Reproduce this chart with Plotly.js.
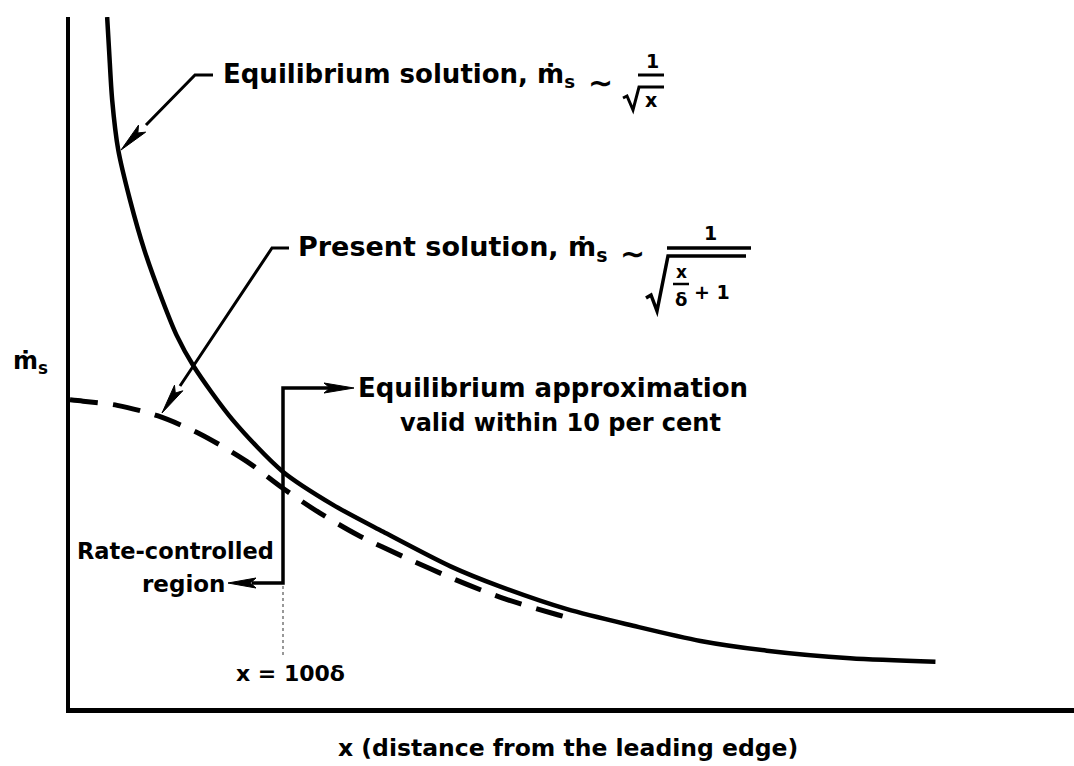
<!DOCTYPE html>
<html><head><meta charset="utf-8">
<script src="https://cdn.plot.ly/plotly-3.0.1.min.js"></script>
<style>html,body{margin:0;padding:0;background:#fff}</style>
</head><body><div id="chart" style="width:1074px;height:766px"></div>
<script>
// Equilibrium solution (solid) (schematic units 0-100)
const equilibriumX = [3.7, 3.9, 4.2, 4.8, 5.98, 7.4, 9.2, 10.6, 12.3, 16.2, 21.2, 26.2, 31.2, 37.9, 42.8, 49.5, 56.1, 62.8, 69.4, 77.7, 86.2];
const equilibriumY = [100, 95.0, 88.0, 80.8, 73.5, 66.3, 59.0, 54.0, 49.5, 41.7, 34.2, 29.4, 25.5, 20.5, 17.6, 14.3, 11.9, 9.7, 8.3, 7.2, 6.7];
// Present solution (dashed)
const presentX = [0, 1.3, 4.7, 8.7, 12.9, 17.6, 21.2, 24.9, 28.7, 33.2, 38.5, 43.1, 48.3, 49.8];
const presentY = [44.6, 44.4, 43.8, 42.3, 39.7, 35.7, 31.8, 28.2, 25.0, 21.9, 18.5, 15.9, 13.6, 13.0];

const labelEquilibrium = 'Equilibrium solution, ṁ<sub>s</sub>';
const labelPresent = 'Present solution, ṁ<sub>s</sub>';
const labelApprox1 = 'Equilibrium approximation';
const labelApprox2 = 'valid within 10 per cent';
const labelRate1 = 'Rate-controlled';
const labelRate2 = 'region';
const labelX100 = 'x = 100δ';
const xTitle = 'x (distance from the leading edge)';
const yTitle = 'ṁ<sub>s</sub>';

const W = 1074, H = 766, ML = 70, MR = 0, MT = 17, MB = 58;
const XR = [0, 100], YR = [0, 100];
function dx(px) { return XR[0] + (px - ML) / (W - ML - MR) * (XR[1] - XR[0]); }
function dy(py) { return YR[0] + (H - MB - py) / (H - MT - MB) * (YR[1] - YR[0]); }
function fx(px) { return (px - ML) / (W - ML - MR); }
function fy(py) { return (H - MB - py) / (H - MT - MB); }
function pth(pts) { return pts.map((p, i) => (i ? 'L' : 'M') + dx(p[0]).toFixed(3) + ',' + dy(p[1]).toFixed(3)).join(' '); }
function seg(pts, w, dash, color) {
  return {type: 'path', xref: 'x', yref: 'y', path: pth(pts), layer: 'above',
          line: {color: color || '#000', width: w, dash: dash || 'solid'}};
}
function head(tip, from, len, hw) {
  const vx = tip[0] - from[0], vy = tip[1] - from[1];
  const n = Math.hypot(vx, vy), ux = vx / n, uy = vy / n;
  const bx = tip[0] - ux * len, by = tip[1] - uy * len;
  const p1 = [bx - uy * hw, by + ux * hw], p2 = [bx + uy * hw, by - ux * hw];
  return {type: 'path', xref: 'x', yref: 'y', path: pth([tip, p1, [tip[0]-ux*len*0.8, tip[1]-uy*len*0.8], p2]) + ' Z', layer: 'above',
          fillcolor: '#000', line: {color: '#000', width: 1}};
}
const FONT = 'DejaVu Sans';
function txt(s, px, py, size, xa) {
  return {xref: 'paper', yref: 'paper', x: fx(px), y: fy(py), text: s, showarrow: false,
          xanchor: xa || 'left', yanchor: 'middle',
          font: {family: FONT, size: size, color: '#000', weight: 'bold'}};
}

const traces = [
  {x: equilibriumX, y: equilibriumY, mode: 'lines', type: 'scatter',
   line: {color: '#000', width: 4.5, shape: 'spline', smoothing: 0.8}, hoverinfo: 'skip', cliponaxis: false},
  {x: presentX, y: presentY, mode: 'lines', type: 'scatter',
   line: {color: '#000', width: 5, shape: 'spline', smoothing: 0.8, dash: '28px,15px'}, hoverinfo: 'skip', cliponaxis: false}
];

const shapes = [
  // equilibrium leader
  seg([[213, 75], [195, 75], [146, 125]], 3),
  head([121, 150], [195, 75], 30, 5),
  // present leader
  seg([[289, 248], [272, 248], [180, 386]], 3),
  head([162, 413], [272, 248], 30, 5),
  // bracket
  seg([[330, 388], [283, 388], [283, 583], [252, 583]], 3.5),
  head([354, 388], [283, 388], 30, 5),
  head([228, 583], [283, 583], 28, 5),
  seg([[283, 586], [283, 655]], 1.5, 'dot', '#777'),
  // fraction 1/sqrt(x)
  seg([[638, 75], [664, 75]], 3),
  seg([[623, 98], [627, 96], [633, 110], [639, 87], [664, 87]], 3),
  // fraction 1/sqrt(x/delta + 1)
  seg([[667, 248], [751, 248]], 3.5),
  seg([[646, 298], [651, 295], [657, 311], [668, 256], [746, 256]], 3.5),
  seg([[673, 284], [689, 284]], 2.5)
];

const annotations = [
  txt(labelEquilibrium, 221, 75, 26),
  txt('∼', 600, 82, 30, 'center'),
  txt('1', 652, 61, 19, 'center'),
  txt('x', 651, 100, 19, 'center'),
  txt(labelPresent, 296, 249, 27),
  txt('∼', 632, 253, 30, 'center'),
  txt('1', 710, 233, 19, 'center'),
  txt('x', 681, 272, 17, 'center'),
  txt('δ', 681, 299, 18, 'center'),
  txt('+ 1', 712, 292, 19, 'center'),
  txt(labelApprox1, 356, 388, 26),
  txt(labelApprox2, 398, 423, 24),
  txt(labelRate1, 75, 551, 22.5),
  txt(labelRate2, 140, 584, 23),
  txt(labelX100, 234, 673, 22),
  txt(xTitle, 568, 748, 23.5, 'center'),
  txt(yTitle, 30, 362, 24, 'center')
];

const layout = {
  width: W, height: H,
  margin: {l: ML, r: MR, t: MT, b: MB, pad: 0},
  paper_bgcolor: '#fff', plot_bgcolor: '#fff',
  showlegend: false,
  xaxis: {range: XR, showline: true, linecolor: '#000', linewidth: 4.5, showgrid: false, zeroline: false,
          showticklabels: false, ticks: '', fixedrange: true},
  yaxis: {range: YR, showline: true, linecolor: '#000', linewidth: 4.5, showgrid: false, zeroline: false,
          showticklabels: false, ticks: '', fixedrange: true},
  shapes: shapes,
  annotations: annotations
};

Plotly.newPlot('chart', traces, layout, {displayModeBar: false, staticPlot: true});
</script>
</body></html>
